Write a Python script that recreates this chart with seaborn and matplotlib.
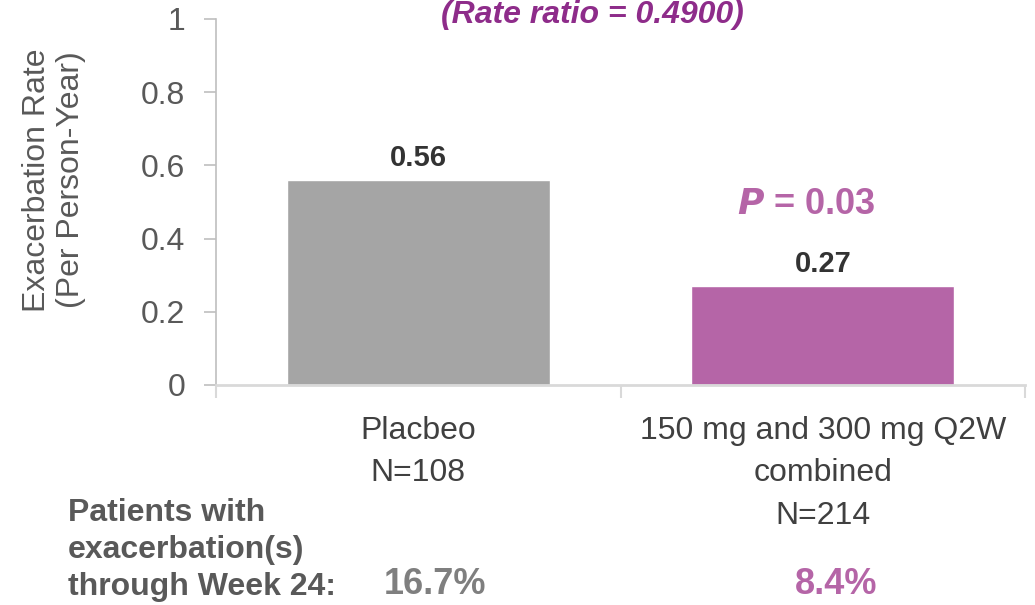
import matplotlib
matplotlib.use("Agg")
import matplotlib.pyplot as plt
import seaborn as sns
import pandas as pd

# Data
groups = ["Placbeo\nN=108", "150 mg and 300 mg Q2W\ncombined\nN=214"]
rates = [0.56, 0.27]
rate_labels = ["0.56", "0.27"]
pct_patients = ["16.7%", "8.4%"]
bar_colors = ["#A5A5A5", "#B565A7"]
pct_colors = ["#7F7F7F", "#B565A7"]
y_ticks = [0, 0.2, 0.4, 0.6, 0.8, 1]
y_tick_labels = ["0", "0.2", "0.4", "0.6", "0.8", "1"]

sns.set_theme(style="white")
plt.rcParams["font.family"] = ["Liberation Sans", "DejaVu Sans"]

df = pd.DataFrame({"group": groups, "rate": rates})

fig = plt.figure(figsize=(10.35, 6.05), dpi=100)
ax = fig.add_axes([216 / 1035, 1 - 385 / 605, 809 / 1035, 366 / 605])

sns.barplot(data=df, x="group", y="rate", hue="group", palette=bar_colors,
            order=groups, hue_order=groups, width=0.65, legend=False,
            saturation=1, ax=ax)

ax.set_ylim(0, 1)
ax.set_xlim(-0.5, 1.5)
ax.set_yticks(y_ticks)
ax.set_yticklabels(y_tick_labels, fontsize=23, color="#595959")
ax.tick_params(axis="y", length=9, width=1.2, color="#BFBFBF", pad=13, left=True)

ax.set_xticks([0, 1])
ax.set_xticklabels(groups, fontsize=23, color="#404040", linespacing=1.56)
ax.tick_params(axis="x", which="major", length=0, pad=22)
ax.set_xticks([-0.5, 0.5, 1.5], minor=True)
ax.tick_params(axis="x", which="minor", length=9, width=1.5, color="#D9D9D9",
               bottom=True, direction="out")
ax.set_xlabel("")
ax.set_ylabel("")

for side in ["top", "right"]:
    ax.spines[side].set_visible(False)
ax.spines["left"].set_color("#BFBFBF")
ax.spines["left"].set_linewidth(1.2)
ax.spines["bottom"].set_color("#D9D9D9")
ax.spines["bottom"].set_linewidth(2)

# Value labels above the bars
for i, (v, lab) in enumerate(zip(rates, rate_labels)):
    ax.annotate(lab, xy=(i, v), xytext=(0, 6), textcoords="offset points",
                ha="center", va="bottom", fontsize=21, fontweight="bold",
                color="#333333")

# Significance annotation
fig.text(806 / 1035, 1 - 205 / 605, r"$\boldsymbol{P}$" + " = 0.03",
         ha="center", va="center", fontsize=26, fontweight="bold",
         color="#B565A7")

# Rate ratio heading
fig.text(592 / 1035, 1 - 23 / 605, "(Rate ratio = 0.4900)", ha="center",
         va="baseline", fontsize=23, fontweight="bold", style="italic",
         color="#8E2C8A")

# Y-axis title
fig.text(54 / 1035, 1 - 180 / 605, "Exacerbation Rate\n(Per Person-Year)",
         ha="center", va="center", rotation=90, fontsize=23,
         color="#595959", linespacing=1.15)

# Proportion of patients with exacerbations
fig.text(68 / 1035, 1 - 550 / 605,
         "Patients with\nexacerbation(s)\nthrough Week 24:",
         ha="left", va="center", fontsize=23, fontweight="bold",
         color="#595959", linespacing=1.3)
pct_x = [435, 836]
for px, txt, c in zip(pct_x, pct_patients, pct_colors):
    fig.text(px / 1035, 1 - 584 / 605, txt, ha="center", va="center",
             fontsize=26, fontweight="bold", color=c)

fig.savefig("out.png", dpi=100)
